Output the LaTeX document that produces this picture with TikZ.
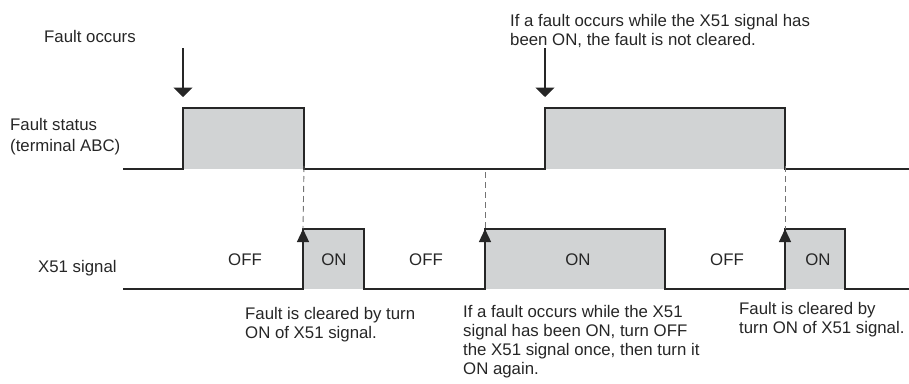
\documentclass[tikz,border=0pt]{standalone}
\usepackage{fontspec}
\setmainfont{Liberation Sans}
\usetikzlibrary{arrows.meta}

\definecolor{pulsegray}{RGB}{209,211,212}

\begin{document}
\begin{tikzpicture}[x=1pt, y=-1pt,
  wave/.style={line width=1.3pt, draw=black!85},
  pulse/.style={fill=pulsegray},
  guide/.style={draw=black!55, line width=0.9pt, dash pattern=on 6pt off 4pt},
  txt/.style={font=\fontsize{16.8}{18.7}\selectfont, text=black!85, inner sep=0pt, align=left, anchor=base west},
  state/.style={font=\fontsize{16.8}{18.7}\selectfont, text=black!85, inner sep=0pt, anchor=base},
  faultarrow/.style={-{Triangle[length=9.5pt,width=19pt]}, line width=1.3pt, black!85},
  cleararrow/.style={-{Triangle[length=13pt,width=12pt]}, line width=1.3pt, black!85}]
  \useasboundingbox (0,0) rectangle (909,383);

  % Fault status: edge points
  \foreach \n/\x in {r1/183, f1/304, r2/545, f2/785}{
    \coordinate (fs\n lo) at (\x,169);
    \coordinate (fs\n hi) at (\x,108);
  }
  \coordinate (fsbeg) at (123,169);
  \coordinate (fsend) at (909,169);

  % X51 signal: edge points
  \foreach \n/\x in {r1/303, f1/364, r2/485, f2/665, r3/785, f3/845}{
    \coordinate (xs\n lo) at (\x,289);
    \coordinate (xs\n hi) at (\x,229);
  }
  \coordinate (xsbeg) at (123,289);
  \coordinate (xsend) at (909,289);

  % Pulses
  \fill[pulse] (fsr1hi) rectangle (fsf1lo);
  \fill[pulse] (fsr2hi) rectangle (fsf2lo);
  \fill[pulse] (xsr1hi) rectangle (xsf1lo);
  \fill[pulse] (xsr2hi) rectangle (xsf2lo);
  \fill[pulse] (xsr3hi) rectangle (xsf3lo);

  \draw[wave] (fsbeg) -- (fsr1lo) -- (fsr1hi) -- (fsf1hi) -- (fsf1lo)
    -- (fsr2lo) -- (fsr2hi) -- (fsf2hi) -- (fsf2lo) -- (fsend);
  \draw[wave] (xsbeg) -- (xsr1lo) -- (xsr1hi) -- (xsf1hi) -- (xsf1lo)
    -- (xsr2lo) -- (xsr2hi) -- (xsf2hi) -- (xsf2lo)
    -- (xsr3lo) -- (xsr3hi) -- (xsf3hi) -- (xsf3lo) -- (xsend);

  % Dashed guides from fault status to X51 rising edges
  \coordinate (gd2) at (485,172);
  \draw[guide] ([yshift=3pt]fsf1lo) -- (xsr1hi);
  \draw[guide] (gd2) -- (xsr2hi);
  \draw[guide] ([yshift=3pt]fsf2lo) -- (xsr3hi);

  % Rising edge arrows
  \foreach \n in {r1, r2, r3}{
    \draw[cleararrow] (xs\n lo) -- (xs\n hi);
  }

  % Fault arrows
  \coordinate (occ1top) at (183,48);
  \coordinate (occ1tip) at (183,97);
  \coordinate (occ2top) at (545,48);
  \coordinate (occ2tip) at (545,97);
  \draw[faultarrow] (occ1top) -- (occ1tip);
  \draw[faultarrow] (occ2top) -- (occ2tip);

  % Texts (multi-line nodes sit on their last line)
  \node[txt] (occ1) at (44,42) {Fault occurs};
  \node[txt] (occ2) at (510,45) {If a fault occurs while the X51 signal has\\been ON, the fault is not cleared.};
  \node[txt] (fslabel) at (10,151) {Fault status\\[2pt](terminal ABC)};
  \node[txt] (xslabel) at (38,272) {X51 signal};

  \foreach \x/\s [count=\i] in {245/OFF, 334/ON, 426/OFF, 578/ON, 727/OFF, 818/ON}{
    \node[state] (st\i) at (\x,265) {\s};
  }

  \node[txt] (clr1) at (245,338) {Fault is cleared by turn\\ON of X51 signal.};
  \node[txt] (clr2) at (463,374) {If a fault occurs while the X51\\signal has been ON, turn OFF\\the X51 signal once, then turn it\\ON again.};
  \node[txt] (clr3) at (739,333) {Fault is cleared by\\turn ON of X51 signal.};
\end{tikzpicture}
\end{document}
